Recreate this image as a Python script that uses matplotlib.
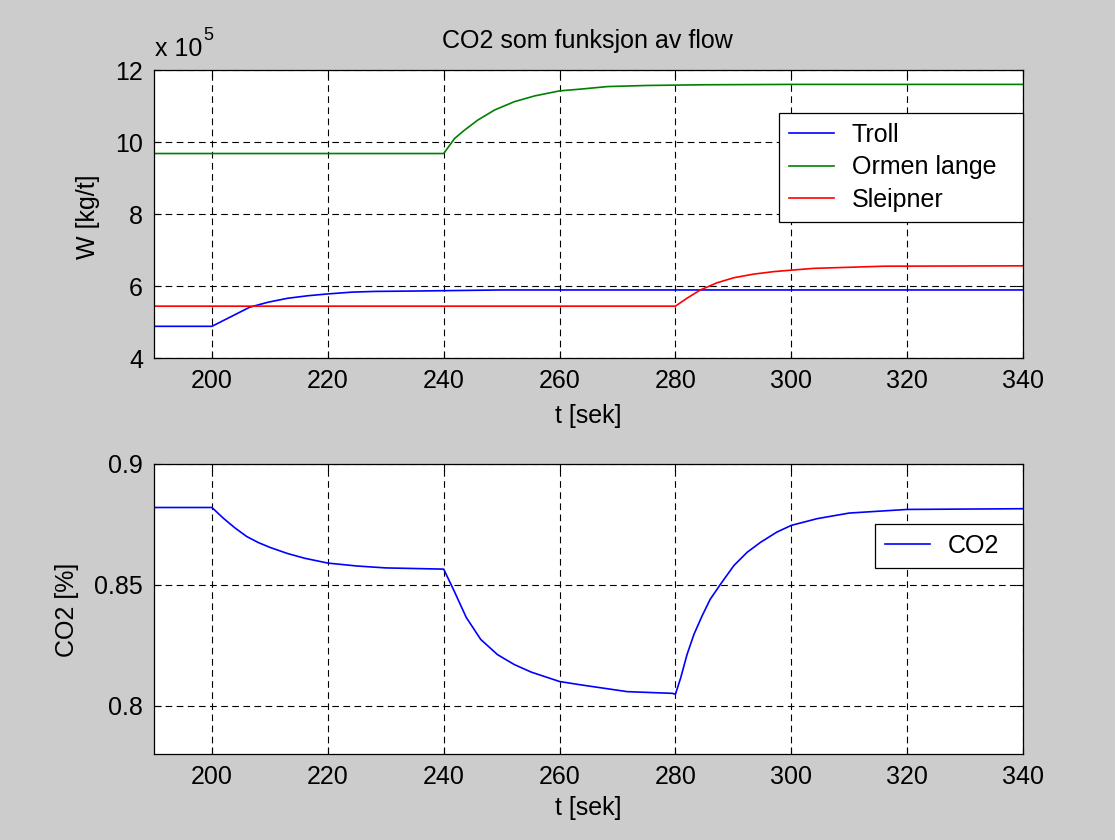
import matplotlib
matplotlib.use("Agg")
import matplotlib.pyplot as plt

# ---- data (W in units of 1e5 kg/t) ----
t_troll = [190, 200, 202.7, 206.5, 209.7, 213.1, 216.6, 220, 224.2, 228.2, 235, 240, 250, 260, 280, 340]
w_troll = [4.88, 4.88, 5.10, 5.41, 5.55, 5.66, 5.73, 5.78, 5.83, 5.85, 5.86, 5.87, 5.89, 5.89, 5.89, 5.89]

t_ormen = [190, 240, 241.9, 243.6, 245.9, 248.8, 252.2, 255.7, 260, 263.7, 268.3, 275, 285, 300, 340]
w_ormen = [9.68, 9.68, 10.10, 10.33, 10.61, 10.89, 11.12, 11.28, 11.42, 11.47, 11.54, 11.57, 11.59, 11.60, 11.60]

t_sleip = [190, 280, 282.0, 284.3, 287.2, 290.1, 293.5, 297.0, 300, 303.9, 310, 316, 340]
w_sleip = [5.44, 5.44, 5.66, 5.89, 6.09, 6.23, 6.33, 6.40, 6.44, 6.49, 6.52, 6.55, 6.56]

t_co2 = [190, 200, 202, 204, 206, 208, 210, 213, 216, 220, 225, 230, 240,
         241.8, 243.9, 246.4, 249.3, 252.2, 255.1, 260, 263.7, 267.7, 271.7, 279.5, 280,
         280.9, 282.0, 283.2, 284.6, 286.0, 287.8, 290.1, 292.4, 294.7, 297.5, 300, 304.5,
         310, 320, 340]
co2 = [0.882, 0.882, 0.8775, 0.8735, 0.870, 0.8675, 0.8655, 0.863, 0.861, 0.859, 0.8578, 0.857, 0.8565,
       0.8475, 0.8365, 0.8274, 0.8211, 0.817, 0.8139, 0.810, 0.8086, 0.8072, 0.8058, 0.8051, 0.8047,
       0.8114, 0.8211, 0.8295, 0.8371, 0.844, 0.8503, 0.858, 0.8635, 0.8676, 0.8718, 0.8746, 0.8774,
       0.8797, 0.8812, 0.8815]

xticks = [200, 220, 240, 260, 280, 300, 320, 340]
yticks_top = [4, 6, 8, 10, 12]
yticks_bot = [0.8, 0.85, 0.9]
ytick_labels_bot = ["0.8", "0.85", "0.9"]

BG = "#cccccc"
FS = 18
plt.rcParams['font.family'] = ['Liberation Sans', 'DejaVu Sans']

W, H = 1115, 840
fig = plt.figure(figsize=(W / 100, H / 100), dpi=100, facecolor=BG)

def axrect(l, t, r, b):
    return [l / W, 1 - b / H, (r - l) / W, (b - t) / H]

ax1 = fig.add_axes(axrect(154, 70, 1023, 358))
ax2 = fig.add_axes(axrect(154, 464, 1023, 754))

for ax in (ax1, ax2):
    ax.set_facecolor("white")
    ax.set_xlim(190, 340)
    ax.set_xticks(xticks)
    ax.grid(True, color="black", linestyle=(0, (6, 4)), linewidth=0.8)
    ax.tick_params(direction="in", top=True, right=True, length=5, width=0.8,
                   labelsize=FS, colors="black", pad=8)
    for s in ax.spines.values():
        s.set_linewidth(0.9)
        s.set_color("black")
    ax.set_axisbelow(True)

ax1.plot(t_troll, w_troll, color=(0, 0, 1), lw=1.2, label="Troll")
ax1.plot(t_ormen, w_ormen, color=(0, 0.5, 0), lw=1.2, label="Ormen lange")
ax1.plot(t_sleip, w_sleip, color=(1, 0, 0), lw=1.2, label="Sleipner")
ax1.set_ylim(4, 12)
ax1.set_yticks(yticks_top)

ax2.plot(t_co2, co2, color=(0, 0, 1), lw=1.2, label="CO2")
ax2.set_ylim(0.78, 0.9)
ax2.set_yticks(yticks_bot)
ax2.set_yticklabels(ytick_labels_bot)

leg_kw = dict(fontsize=FS, frameon=True, fancybox=False, shadow=False, framealpha=1,
              edgecolor="black", borderaxespad=0, handlelength=1.8, handletextpad=0.7,
              borderpad=0.4, labelspacing=0.33, mode="expand")
w1 = 244 / 869
lg1 = ax1.legend(loc="upper right", bbox_to_anchor=(1.0 - w1, 0, w1, 245 / 288), **leg_kw)
w2 = 148 / 869
lg2 = ax2.legend(loc="upper right", bbox_to_anchor=(1.0 - w2, 0, w2, 230 / 290), **leg_kw)
for lg in (lg1, lg2):
    lg.get_frame().set_linewidth(0.9)

# labels
fig.text(587 / W, 1 - 41 / H, "CO2 som funksjon av flow", ha="center", va="center", fontsize=FS)
fig.text(588 / W, 1 - 416 / H, "t [sek]", ha="center", va="center", fontsize=FS)
fig.text(588 / W, 1 - 808 / H, "t [sek]", ha="center", va="center", fontsize=FS)
fig.text(88 / W, 1 - 217 / H, "W [kg/t]", ha="center", va="center", rotation=90, fontsize=FS)
fig.text(67 / W, 1 - 610 / H, "CO2 [%]", ha="center", va="center", rotation=90, fontsize=FS)
fig.text(155 / W, 1 - 56 / H, "x 10", ha="left", va="baseline", fontsize=FS)
fig.text(203 / W, 1 - 40 / H, "5", ha="left", va="baseline", fontsize=FS - 5)

fig.savefig("out.png", dpi=100, facecolor=BG)
